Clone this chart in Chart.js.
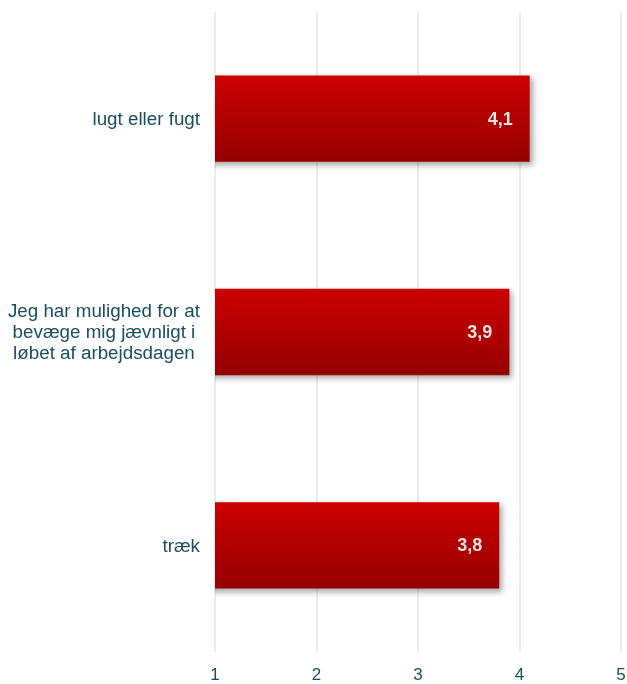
<!DOCTYPE html>
<html>
<head>
<meta charset="utf-8">
<script src="https://cdn.jsdelivr.net/npm/chart.js@4/dist/chart.umd.min.js"></script>
<style>
  html, body { margin: 0; padding: 0; background: #ffffff; }
  #wrap { width: 627px; height: 684px; position: relative; }
</style>
</head>
<body>
<div id="wrap"><canvas id="c"></canvas></div>
<script>
const categories = [
  ["lugt eller fugt"],
  ["Jeg har mulighed for at", "bevæge mig jævnligt i", "løbet af arbejdsdagen"],
  ["træk"]
];
const values = [4.1, 3.9, 3.8];
const xTicks = [1, 2, 3, 4, 5];

const FONT = "'Liberation Sans', Arial, sans-serif";
const TEXT_COLOR = '#17505e';

function barGradient(ctx) {
  const chart = ctx.chart;
  const y = chart.scales && chart.scales.y;
  if (!chart.chartArea || !y || ctx.dataIndex === undefined) return '#b30000';
  const c = y.getPixelForValue(ctx.dataIndex);
  const half = (y.height / categories.length) * 0.405 / 2;
  const g = chart.ctx.createLinearGradient(0, c - half, 0, c + half);
  g.addColorStop(0, '#cc0000');
  g.addColorStop(1, '#960000');
  return g;
}

const shadowPlugin = {
  id: 'barShadow',
  beforeDatasetsDraw(chart) {
    const ctx = chart.ctx;
    ctx.save();
    ctx.shadowColor = 'rgba(0,0,0,0.35)';
    ctx.shadowBlur = 6;
    ctx.shadowOffsetX = 3;
    ctx.shadowOffsetY = 3;
  },
  afterDatasetsDraw(chart) {
    chart.ctx.restore();
  }
};

const labelsPlugin = {
  id: 'labelsDraw',
  afterDraw(chart) {
    const ctx = chart.ctx;
    const meta = chart.getDatasetMeta(0);
    ctx.save();
    // value labels
    ctx.font = 'bold 18px ' + FONT;
    ctx.fillStyle = '#e2e2e2';
    ctx.textAlign = 'right';
    ctx.textBaseline = 'middle';
    meta.data.forEach((bar, i) => {
      ctx.fillText(String(values[i]).replace('.', ','), bar.x - 17, bar.y + 1);
    });
    // category labels: block right-aligned, lines centered within block
    const yScale = chart.scales.y;
    ctx.font = '18.8px ' + FONT;
    ctx.fillStyle = TEXT_COLOR;
    ctx.textAlign = 'center';
    const right = chart.chartArea.left - 15;
    const lh = 21;
    categories.forEach((lines, i) => {
      const cy = yScale.getPixelForTick(i);
      const w = Math.max(...lines.map(l => ctx.measureText(l).width));
      const cx = right - w / 2;
      const top = cy - (lines.length - 1) * lh / 2;
      lines.forEach((l, k) => ctx.fillText(l, cx, top + k * lh + 1));
    });
    ctx.restore();
  }
};

new Chart(document.getElementById('c'), {
  type: 'bar',
  data: {
    labels: categories,
    datasets: [{
      data: values,
      backgroundColor: barGradient,
      borderWidth: 0,
      barPercentage: 0.9,
      categoryPercentage: 0.45
    }]
  },
  options: {
    indexAxis: 'y',
    responsive: true,
    maintainAspectRatio: false,
    animation: false,
    layout: { padding: { top: 12, right: 6, left: 0, bottom: 0 } },
    plugins: { legend: { display: false }, tooltip: { enabled: false } },
    scales: {
      x: {
        min: 1, max: 5,
        afterBuildTicks(scale) { scale.ticks = xTicks.map(v => ({ value: v })); },
        grid: { color: '#ebebeb', lineWidth: 2, drawTicks: true, tickLength: 15, tickColor: 'rgba(0,0,0,0)' },
        border: { display: false },
        ticks: { color: TEXT_COLOR, font: { family: FONT, size: 17, lineHeight: 1.0 }, padding: 0, maxRotation: 0 }
      },
      y: {
        grid: { display: false },
        border: { display: false },
        ticks: { display: true, color: 'rgba(0,0,0,0)', font: { family: FONT, size: 15 } },
        afterFit(scale) { scale.width = 215; }
      }
    }
  },
  plugins: [shadowPlugin, labelsPlugin]
});
</script>
</body>
</html>
